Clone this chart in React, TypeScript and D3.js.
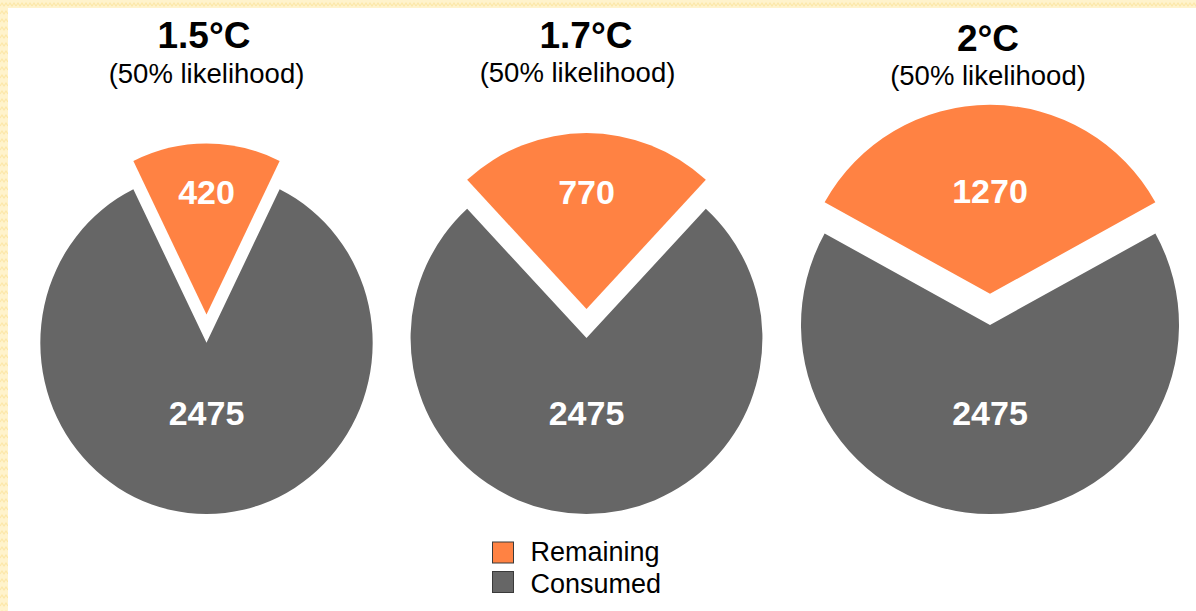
import React from 'react';
import * as d3 from 'd3';

// Carbon budget scenarios (GtCO2)
const scenarios = ['1.5°C', '1.7°C', '2°C'];
const likelihood = ['(50% likelihood)', '(50% likelihood)', '(50% likelihood)'];
const remaining = [420, 770, 1270];
const consumed = [2475, 2475, 2475];
const legendLabels = ['Remaining', 'Consumed'];

const W = 1196;
const H = 611;
const COLORS = ['#FF8243', '#666666'];
const FONT = '"Liberation Sans", Arial, Helvetica, sans-serif';

// per-pie placement
const layout = [
  { cx: 206.5, sy: 1.03, titleX: 204, subX: 206.5, titleY: 48, subY: 82.5, topLabelY: 204 },
  { cx: 586.5, sy: 1, titleX: 586, subX: 577.5, titleY: 47.5, subY: 81.5, topLabelY: 203.5 },
  { cx: 990, sy: 1, titleX: 988, subX: 988, titleY: 50.5, subY: 85, topLabelY: 203 },
];
const BASE_Y = 514;
const BOTTOM_LABEL_Y = 425;
const EXPLODE = 0.165;

export default function App() {
  const totals = remaining.map((r, i) => r + consumed[i]);
  const rScale = d3.scaleSqrt().domain([0, d3.max(totals) as number]).range([0, 189]);

  return (
    <svg
      width={W}
      height={H}
      style={{ position: 'absolute', left: 0, top: 0, background: '#fff' }}
      fontFamily={FONT}
    >
      <defs>
        <pattern id="zig" width="8" height="8" patternUnits="userSpaceOnUse">
          <rect width="8" height="8" fill="#FFF3CC" />
          <path d="M0,6 L2,3 L4,6 L6,3 L8,6" fill="none" stroke="#FCE7A8" strokeWidth="1.2" />
        </pattern>
      </defs>
      <rect x={0} y={0} width={W} height={H} fill="#fff" />
      <rect x={0} y={0} width={W} height={8} fill="url(#zig)" />
      <rect x={0} y={0} width={8} height={H} fill="url(#zig)" />

      {scenarios.map((name, i) => {
        const L = layout[i];
        const total = totals[i];
        const r = rScale(total);
        const a = (2 * Math.PI * remaining[i]) / total;
        const pie = d3
          .pie<number>()
          .sort(null)
          .value((d) => d)
          .startAngle(-a / 2)
          .endAngle(2 * Math.PI - a / 2);
        const arcs = pie([remaining[i], consumed[i]]);
        const arc = d3.arc<d3.PieArcDatum<number>>().innerRadius(0).outerRadius(r);
        const cy = BASE_Y - r * L.sy;
        return (
          <g key={name}>
            <g transform={`translate(${L.cx},${cy}) scale(1,${L.sy})`}>
              {arcs.map((d, j) => {
                const mid = (d.startAngle + d.endAngle) / 2;
                const e = j === 0 ? EXPLODE * r : 0;
                const dx = Math.sin(mid) * e;
                const dy = -Math.cos(mid) * e;
                return (
                  <path
                    key={j}
                    d={arc(d) as string}
                    transform={`translate(${dx},${dy})`}
                    fill={COLORS[j]}
                  />
                );
              })}
            </g>
            <text
              x={L.cx}
              y={L.topLabelY}
              textAnchor="middle"
              fontSize={34}
              fontWeight="bold"
              fill="#fff"
            >
              {remaining[i]}
            </text>
            <text
              x={L.cx}
              y={BOTTOM_LABEL_Y}
              textAnchor="middle"
              fontSize={34}
              fontWeight="bold"
              fill="#fff"
            >
              {consumed[i]}
            </text>
            <text x={L.titleX} y={L.titleY} textAnchor="middle" fontSize={37} fontWeight="bold" fill="#000">
              {name}
            </text>
            <text x={L.subX} y={L.subY} textAnchor="middle" fontSize={27.5} fill="#000">
              {likelihood[i]}
            </text>
          </g>
        );
      })}

      {legendLabels.map((lab, i) => (
        <g key={lab}>
          <rect
            x={492.5}
            y={542 + i * 29.5}
            width={21}
            height={21}
            fill={COLORS[i]}
            stroke="#3a3a3a"
            strokeWidth={1}
          />
          <text x={530.5} y={561 + i * 32} fontSize={27} fill="#000">
            {lab}
          </text>
        </g>
      ))}
    </svg>
  );
}
